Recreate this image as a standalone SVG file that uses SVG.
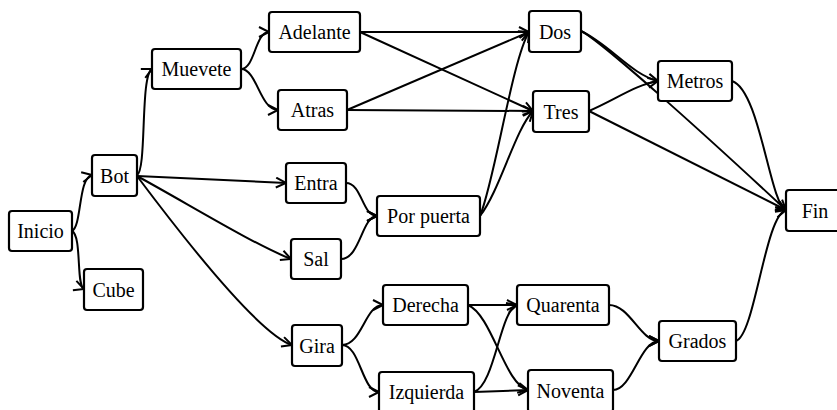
<svg xmlns="http://www.w3.org/2000/svg" width="837" height="410" viewBox="0 0 837 410">
  <style>
    .node rect { fill: #ffffff; stroke: #000000; stroke-width: 2.2; }
    .node text { font-family: "Liberation Serif", "Times New Roman", serif; font-size: 20px; fill: #000000; text-anchor: middle; }
    #edges path { fill: none; stroke: #000000; stroke-width: 2; marker-end: url(#arrow); }
  </style>
  <defs>
    <marker id="arrow" markerUnits="userSpaceOnUse" markerWidth="14" markerHeight="14" refX="11" refY="6" orient="auto">
      <path d="M1,1 L11,6 L1,11" fill="none" stroke="#000000" stroke-width="2"/>
    </marker>
  </defs>
  <rect width="837" height="410" fill="#ffffff"/>

  <!-- connectors -->
  <g id="edges">
    <path d="M72,231 C82,226 78,178 92,175"/>
    <path d="M72,231 C82,236 76,286 84,289"/>
    <path d="M137,175 C147,170 140,75 152,69"/>
    <path d="M137,176 L286,183"/>
    <path d="M137,176 C190,205 255,245 291,259"/>
    <path d="M137,176 C200,260 262,335 292,345"/>
    <path d="M241,69 C255,69 255,32 269,32"/>
    <path d="M241,69 C257,69 260,110 278,110"/>
    <path d="M360,32 L529,32"/>
    <path d="M360,32 L533,111"/>
    <path d="M347,110 L529,32"/>
    <path d="M347,110 L533,111"/>
    <path d="M346,183 C362,183 362,216 377,216"/>
    <path d="M341,259 C360,259 362,216 377,216"/>
    <path d="M480,216 C495,180 512,60 529,32"/>
    <path d="M480,216 C500,190 515,130 533,111"/>
    <path d="M581,31 C610,45 632,75 658,81"/>
    <path d="M581,31 C600,40 700,130 786,210"/>
    <path d="M589,111 C615,100 635,85 658,81"/>
    <path d="M589,111 L786,210"/>
    <path d="M732,81 C760,90 770,205 786,210"/>
    <path d="M342,345 C362,345 365,305 383,305"/>
    <path d="M342,345 C360,345 362,392 379,392"/>
    <path d="M468,305 L517,305"/>
    <path d="M468,305 C492,315 505,385 528,390"/>
    <path d="M474,392 C495,385 500,310 517,305"/>
    <path d="M474,392 L528,390"/>
    <path d="M609,305 C630,305 640,341 659,341"/>
    <path d="M613,390 C632,390 640,341 659,341"/>
    <path d="M736,341 C755,335 765,215 786,210"/>
  </g>

  <!-- nodes -->
  <g id="inicio" class="node"><rect x="9" y="211" width="63" height="40" rx="3"/><text x="40.5" y="238">Inicio</text></g>
  <g id="bot" class="node"><rect x="92" y="155" width="45" height="41" rx="3"/><text x="114.5" y="182.5">Bot</text></g>
  <g id="cube" class="node"><rect x="84" y="269" width="59" height="41" rx="3"/><text x="113.5" y="296.5">Cube</text></g>
  <g id="muevete" class="node"><rect x="152" y="49" width="89" height="40" rx="3"/><text x="196.5" y="76">Muevete</text></g>
  <g id="adelante" class="node"><rect x="269" y="12" width="91" height="40" rx="3"/><text x="314.5" y="39">Adelante</text></g>
  <g id="atras" class="node"><rect x="278" y="90" width="69" height="40" rx="3"/><text x="312.5" y="117">Atras</text></g>
  <g id="entra" class="node"><rect x="286" y="163" width="60" height="40" rx="3"/><text x="316" y="190">Entra</text></g>
  <g id="sal" class="node"><rect x="291" y="239" width="50" height="40" rx="3"/><text x="316" y="266">Sal</text></g>
  <g id="porpuerta" class="node"><rect x="377" y="196" width="103" height="40" rx="3"/><text x="428.5" y="223">Por puerta</text></g>
  <g id="gira" class="node"><rect x="292" y="325" width="50" height="41" rx="3"/><text x="317" y="352.5">Gira</text></g>
  <g id="derecha" class="node"><rect x="383" y="285" width="85" height="40" rx="3"/><text x="425.5" y="312">Derecha</text></g>
  <g id="izquierda" class="node"><rect x="379" y="372" width="95" height="41" rx="3"/><text x="426.5" y="399">Izquierda</text></g>
  <g id="quarenta" class="node"><rect x="517" y="285" width="92" height="40" rx="3"/><text x="563" y="312">Quarenta</text></g>
  <g id="noventa" class="node"><rect x="528" y="370" width="85" height="42" rx="3"/><text x="570.5" y="397.5">Noventa</text></g>
  <g id="dos" class="node"><rect x="529" y="11" width="52" height="41" rx="3"/><text x="555" y="38.5">Dos</text></g>
  <g id="tres" class="node"><rect x="533" y="91" width="56" height="41" rx="3"/><text x="561" y="118.5">Tres</text></g>
  <g id="metros" class="node"><rect x="658" y="61" width="74" height="40" rx="3"/><text x="695" y="88">Metros</text></g>
  <g id="grados" class="node"><rect x="659" y="321" width="77" height="40" rx="3"/><text x="697.5" y="348">Grados</text></g>
  <g id="fin" class="node"><rect x="786" y="190" width="58" height="41" rx="3"/><text x="815" y="217.5">Fin</text></g>
</svg>
